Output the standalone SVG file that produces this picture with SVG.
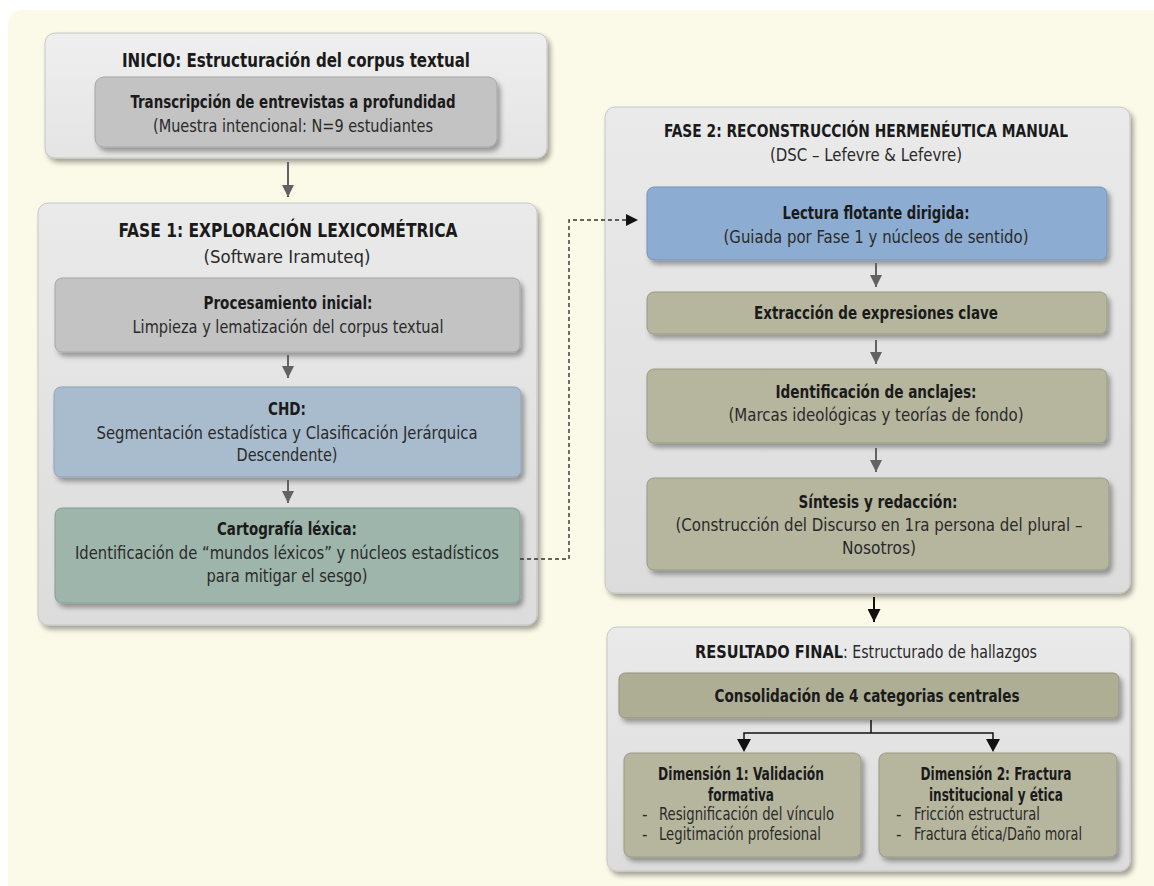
<svg xmlns="http://www.w3.org/2000/svg" width="1154" height="886" viewBox="0 0 1154 886">
<defs>
<filter id="sh" x="-10%" y="-10%" width="125%" height="135%">
<feDropShadow dx="3" dy="4" stdDeviation="2.5" flood-color="#000" flood-opacity="0.35"/>
</filter>
<linearGradient id="gOuter" x1="0" y1="0" x2="0" y2="1">
<stop offset="0" stop-color="#EAEAEA"/><stop offset="1" stop-color="#DCDCDC"/>
</linearGradient>
<linearGradient id="gTop" x1="0" y1="0" x2="0" y2="1">
<stop offset="0" stop-color="#EFEFEF"/><stop offset="1" stop-color="#E4E4E4"/>
</linearGradient>
<marker id="ag" viewBox="0 0 12 12" refX="12" refY="6" markerWidth="12" markerHeight="12" markerUnits="userSpaceOnUse" orient="auto">
<path d="M0,0 L12,6 L0,12 Z" fill="#626262"/>
</marker>
<marker id="ab" viewBox="0 0 12 12" refX="12" refY="6" markerWidth="13" markerHeight="13" markerUnits="userSpaceOnUse" orient="auto">
<path d="M0,0 L12,6 L0,12 Z" fill="#111"/>
</marker>
</defs>
<style>
.outer{fill:url(#gOuter);stroke:#C6C6C6;stroke-width:1;filter:url(#sh)}
.grey{fill:#C3C3C3;stroke:#A6A6A6;stroke-width:1;filter:url(#sh)}
.steel{fill:#A9BCCE;stroke:#8FA2B5;stroke-width:1;filter:url(#sh)}
.blue{fill:#8CADD1;stroke:#7494B8;stroke-width:1;filter:url(#sh)}
.sage{fill:#9DB5AA;stroke:#84A093;stroke-width:1;filter:url(#sh)}
.olive{fill:#B6B69E;stroke:#9A9A82;stroke-width:1;filter:url(#sh)}
.olive2{fill:#AEAE94;stroke:#93937A;stroke-width:1;filter:url(#sh)}
text{font-family:"Liberation Sans Narrow","Arial Narrow","DejaVu Sans Condensed","Liberation Sans",sans-serif;text-anchor:middle;fill:#2a2a2a;font-size:17px}
.h{font-weight:bold;fill:#1a1a1a;font-size:20px}
.b{font-weight:bold;fill:#1a1a1a;font-size:17.5px}
.l{text-anchor:start}
.cg{stroke:#626262;stroke-width:2;fill:none}
.ck{stroke:#111;stroke-width:2;fill:none}
.cd{stroke:#333;stroke-width:1.4;fill:none;stroke-dasharray:4 3}
</style>
<rect x="8" y="10" width="1170" height="900" rx="14" fill="#FBFAE8"/>

<g id="inicio">
<rect class="outer" x="45" y="33" width="502" height="125" rx="10" style="fill:url(#gTop)"/>
<text class="h" x="296" y="67" textLength="348" lengthAdjust="spacingAndGlyphs">INICIO: Estructuración del corpus textual</text>
<g id="transcripcion">
<rect class="grey" x="95" y="77" width="402" height="70" rx="9"/>
<text class="b" x="293" y="108" font-size="18" textLength="325" lengthAdjust="spacingAndGlyphs">Transcripción de entrevistas a profundidad</text>
<text x="293" y="132" textLength="280" lengthAdjust="spacingAndGlyphs">(Muestra intencional: N=9 estudiantes</text>
</g>
</g>

<g id="fase1">
<rect class="outer" x="38" y="203" width="499" height="422" rx="10"/>
<text class="h" x="288" y="237" textLength="339" lengthAdjust="spacingAndGlyphs">FASE 1: EXPLORACIÓN LEXICOMÉTRICA</text>
<text x="287" y="263" font-size="18" textLength="167" lengthAdjust="spacingAndGlyphs">(Software Iramuteq)</text>
</g>
<g id="procesamiento">
<rect class="grey" x="55" y="278" width="465" height="74" rx="7"/>
<text class="b" x="288" y="309" textLength="169" lengthAdjust="spacingAndGlyphs">Procesamiento inicial:</text>
<text x="288" y="333" textLength="311" lengthAdjust="spacingAndGlyphs">Limpieza y lematización del corpus textual</text>
</g>
<g id="chd">
<rect class="steel" x="54" y="387" width="467" height="90" rx="7"/>
<text class="b" x="287" y="415" textLength="38" lengthAdjust="spacingAndGlyphs">CHD:</text>
<text x="287" y="439" textLength="381" lengthAdjust="spacingAndGlyphs">Segmentación estadística y Clasificación Jerárquica</text>
<text x="287" y="461" textLength="101" lengthAdjust="spacingAndGlyphs">Descendente)</text>
</g>
<g id="cartografia">
<rect class="sage" x="55" y="508" width="465" height="95" rx="7"/>
<text class="b" x="287" y="535" textLength="140" lengthAdjust="spacingAndGlyphs">Cartografía léxica:</text>
<text x="287" y="559" textLength="424" lengthAdjust="spacingAndGlyphs">Identificación de “mundos léxicos” y núcleos estadísticos</text>
<text x="287" y="582" textLength="161" lengthAdjust="spacingAndGlyphs">para mitigar el sesgo)</text>
</g>

<g id="fase2">
<rect class="outer" x="605" y="107" width="525" height="486" rx="10"/>
<text class="h" x="866" y="137" font-size="18" style="font-size:18px" textLength="404" lengthAdjust="spacingAndGlyphs">FASE 2: RECONSTRUCCIÓN HERMENÉUTICA MANUAL</text>
<text x="866" y="161" textLength="192" lengthAdjust="spacingAndGlyphs">(DSC – Lefevre &amp; Lefevre)</text>
</g>
<g id="lectura">
<rect class="blue" x="647" y="187" width="460" height="73" rx="7"/>
<text class="b" x="876" y="219" textLength="187" lengthAdjust="spacingAndGlyphs">Lectura flotante dirigida:</text>
<text x="876" y="243" textLength="305" lengthAdjust="spacingAndGlyphs">(Guiada por Fase 1 y núcleos de sentido)</text>
</g>
<g id="extraccion">
<rect class="olive" x="647" y="292" width="460" height="42" rx="7"/>
<text class="b" x="876" y="319" textLength="244" lengthAdjust="spacingAndGlyphs">Extracción de expresiones clave</text>
</g>
<g id="identificacion">
<rect class="olive" x="647" y="369" width="460" height="74" rx="7"/>
<text class="b" x="876" y="398" textLength="201" lengthAdjust="spacingAndGlyphs">Identificación de anclajes:</text>
<text x="876" y="421" textLength="295" lengthAdjust="spacingAndGlyphs">(Marcas ideológicas y teorías de fondo)</text>
</g>
<g id="sintesis">
<rect class="olive" x="647" y="478" width="462" height="92" rx="7"/>
<text class="b" x="878" y="508" textLength="159" lengthAdjust="spacingAndGlyphs">Síntesis y redacción:</text>
<text x="879" y="531" textLength="407" lengthAdjust="spacingAndGlyphs">(Construcción del Discurso en 1ra persona del plural –</text>
<text x="879" y="554" textLength="74" lengthAdjust="spacingAndGlyphs">Nosotros)</text>
</g>

<g id="resultado">
<rect class="outer" x="607" y="627" width="523" height="244" rx="10"/>
<text x="866" y="658" font-size="18" textLength="342" lengthAdjust="spacingAndGlyphs"><tspan class="b" font-size="18">RESULTADO FINAL</tspan>: Estructurado de hallazgos</text>
</g>
<g id="consolidacion">
<rect class="olive2" x="619" y="673" width="500" height="45" rx="6"/>
<text class="b" x="867" y="702" font-size="19" textLength="305" lengthAdjust="spacingAndGlyphs">Consolidación de 4 categorias centrales</text>
</g>
<g id="dimension1">
<rect class="olive" x="624" y="753" width="237" height="104" rx="7"/>
<text class="b" x="741" y="780" font-size="17" textLength="166" lengthAdjust="spacingAndGlyphs">Dimensión 1: Validación</text>
<text class="b" x="741" y="801" font-size="17" textLength="66" lengthAdjust="spacingAndGlyphs">formativa</text>
<text class="l" x="642" y="820" font-size="16">-</text>
<text class="l" x="659" y="820" font-size="16" textLength="175" lengthAdjust="spacingAndGlyphs">Resignificación del vínculo</text>
<text class="l" x="642" y="840" font-size="16">-</text>
<text class="l" x="659" y="840" font-size="16" textLength="162" lengthAdjust="spacingAndGlyphs">Legitimación profesional</text>
</g>
<g id="dimension2">
<rect class="olive" x="879" y="753" width="238" height="104" rx="7"/>
<text class="b" x="996" y="780" font-size="17" textLength="151" lengthAdjust="spacingAndGlyphs">Dimensión 2: Fractura</text>
<text class="b" x="996" y="801" font-size="17" textLength="134" lengthAdjust="spacingAndGlyphs">institucional y ética</text>
<text class="l" x="896" y="820" font-size="16">-</text>
<text class="l" x="914" y="820" font-size="16" textLength="126" lengthAdjust="spacingAndGlyphs">Fricción estructural</text>
<text class="l" x="896" y="840" font-size="16">-</text>
<text class="l" x="914" y="840" font-size="16" textLength="168" lengthAdjust="spacingAndGlyphs">Fractura ética/Daño moral</text>
</g>

<g id="connectors">
<line class="cg" x1="288" y1="162" x2="288" y2="197" marker-end="url(#ag)"/>
<line class="cg" x1="288" y1="355" x2="288" y2="378" marker-end="url(#ag)"/>
<line class="cg" x1="288" y1="480" x2="288" y2="503" marker-end="url(#ag)"/>
<polyline class="cd" points="520,559 569,559 569,220 626,220"/>
<path d="M626,214 L638,220 L626,226 Z" fill="#111"/>
<line class="cg" x1="876" y1="263" x2="876" y2="287" marker-end="url(#ag)"/>
<line class="cg" x1="876" y1="340" x2="876" y2="364" marker-end="url(#ag)"/>
<line class="cg" x1="876" y1="448" x2="876" y2="472" marker-end="url(#ag)"/>
<line class="ck" x1="874" y1="597" x2="874" y2="622" marker-end="url(#ab)"/>
<polyline class="ck" points="871,720 871,733" style="stroke-width:1.5"/>
<polyline class="ck" points="744,750 744,733 993,733 993,750" style="stroke-width:1.5"/>
<path d="M737,739 L751,739 L744,752 Z" fill="#111"/>
<path d="M986,739 L1000,739 L993,752 Z" fill="#111"/>
</g>
</svg>
